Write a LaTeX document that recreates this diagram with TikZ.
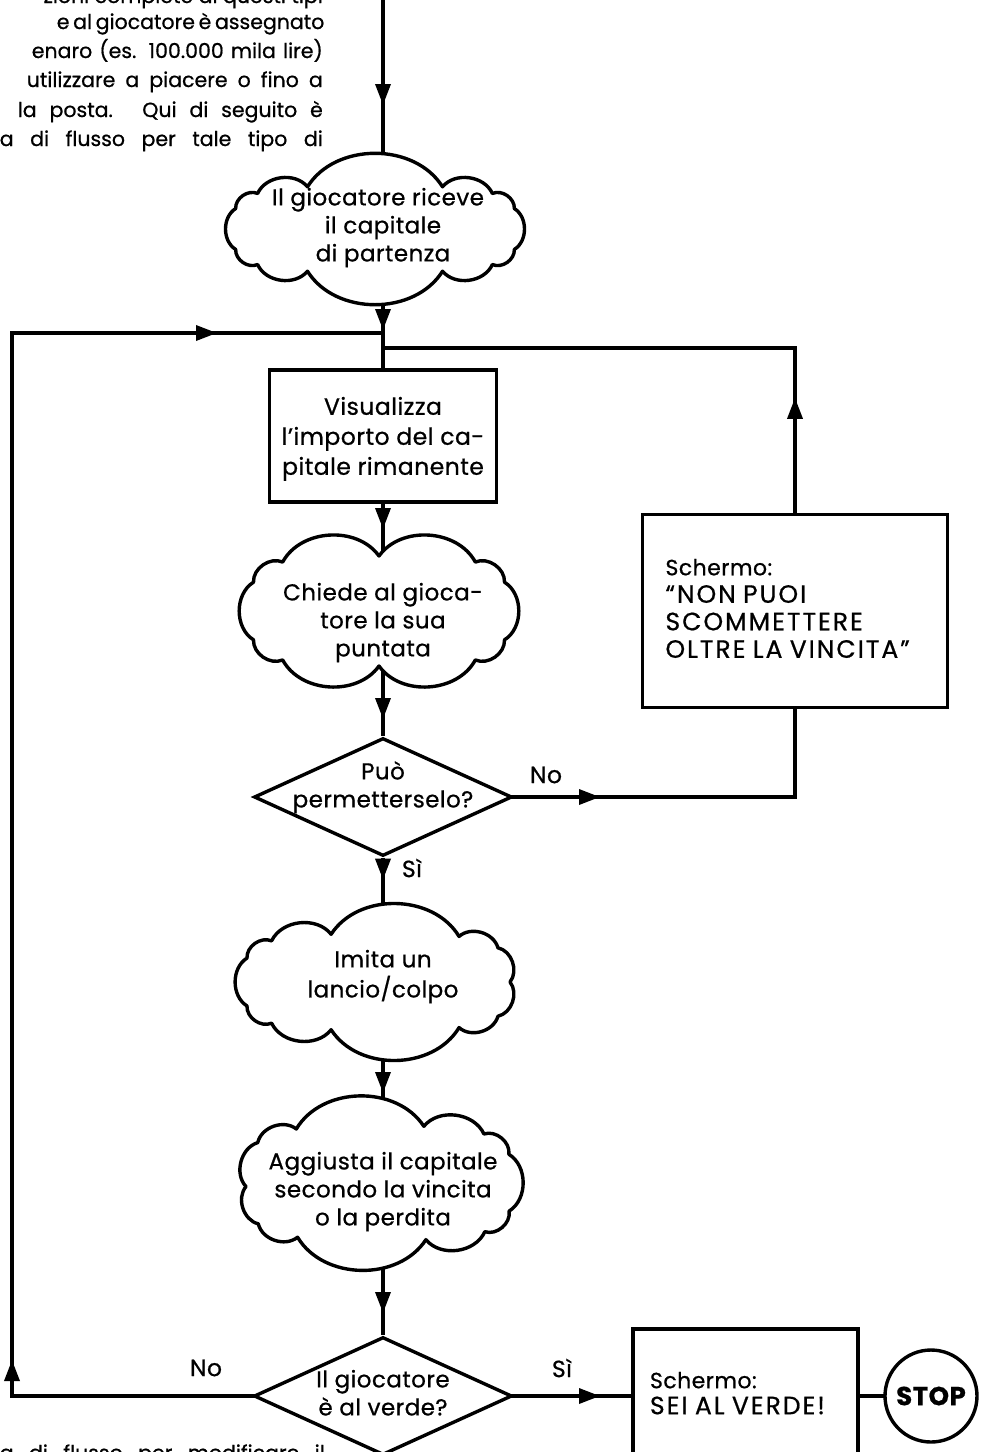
\documentclass[tikz,border=0pt]{standalone}
\usepackage{fontspec}
\setmainfont{Poppins}[LetterSpace=2, FakeBold=0.7]
\newfontfamily\parafont{Poppins}[FakeBold=0.7]
\newfontfamily\capsfont{Poppins}[LetterSpace=8, FakeBold=0.7]
\usetikzlibrary{shapes.geometric,arrows.meta,decorations.markings,backgrounds,calc}
\pgfmathdeclarefunction{sex}{1}{\pgfmathparse{sign(cos(#1))*pow(abs(cos(#1))+0.00001,0.55)}}
\pgfmathdeclarefunction{sey}{1}{\pgfmathparse{sign(sin(#1))*pow(abs(sin(#1))+0.00001,0.55)}}
\newcommand\zbox[2][0pt]{\makebox[0pt]{\raisebox{#1}[0pt][0pt]{\begin{tabular}{@{}c@{}}#2\end{tabular}}}}
\newcommand\capsline[1]{{\capsfont\fontsize{25}{27.5}\selectfont #1}}
% cloud outline: centre x, centre y, half width, half height, puffs, start angle
\newcommand\cloudshape[6]{%
  \draw[cloudline] ({#1+#3*sex(#6)},{#2+#4*sey(#6)})
    \foreach \k in {1,...,#5} { to[bend left=58] ({#1+#3*sex(#6+\k*360/#5)},{#2+#4*sey(#6+\k*360/#5)}) } -- cycle;}
\begin{document}
\begin{tikzpicture}[x=1pt,y=-1pt,
  conn/.style={line width=3.4pt, line join=miter},
  arrowat/.style={postaction={decorate,decoration={markings,
      mark=at position #1 with {\arrow{Triangle[length=21pt,width=15pt]}}}}},
  txt/.style={font=\fontsize{23}{28}\selectfont},
  cloudline/.style={draw, fill=white, line width=3.4pt, line join=round},
  cloudnode/.style={rectangle, inner sep=0pt, txt},
  procbox/.style={rectangle, draw, fill=white, line width=3.4pt, inner sep=0pt,
      font=\fontsize{23.5}{30}\selectfont},
  screenbox/.style={rectangle, draw, fill=white, line width=3.4pt, align=left,
      font=\fontsize{22}{27.5}\selectfont},
  decision/.style={diamond, draw, fill=white, line width=3.4pt, inner sep=0pt, txt},
  lbl/.style={font=\fontsize{23.5}{28}\selectfont, inner sep=0pt},
  paraline/.style={anchor=base east, inner sep=0pt, font=\parafont\fontsize{20.5}{29}\selectfont}
]
\useasboundingbox (0,0) rectangle (982,1452);

% paragraph fragments
\node[paraline] (p1) at (323,3) {zioni complete di questi tipi};
\node[paraline] (p2) at (323,29) {\makebox[266pt][s]{e al giocatore è assegnato}};
\node[paraline] (p3) at (323,58) {\makebox[291pt][s]{enaro (es. 100.000 mila lire)}};
\node[paraline] (p4) at (323,87) {\makebox[296pt][s]{utilizzare a piacere o fino a}};
\node[paraline] (p5) at (323,117) {\makebox[305pt][s]{la posta. Qui di seguito è}};
\node[paraline] (p6) at (323,146) {\makebox[323pt][s]{a di flusso per tale tipo di}};
\node[paraline] (p7) at (325,1460) {\makebox[325pt][s]{a di flusso per modificare il}};

% cloud outlines
\cloudshape{375}{229}{142}{43}{12}{15}
\cloudshape{379}{611}{129}{55}{10}{18}
\cloudshape{377}{982}{133}{48}{11}{0}
\cloudshape{379}{1183}{133}{57}{11}{16}

% main column
\coordinate (topin) at (383,0);
\node[cloudnode, minimum width=297pt, minimum height=142pt] (c1) at (383,229)
  {\zbox[-5pt]{\hspace*{-10pt}Il giocatore riceve\\il capitale\\di partenza}};
\node[procbox, minimum width=227pt, minimum height=132pt] (b1) at (383,436)
  {\zbox[-9pt]{Visualizza\\l’importo del ca-\\pitale rimanente}};
\node[cloudnode, minimum width=285pt, minimum height=155pt] (c2) at (383,611)
  {\zbox[-18pt]{Chiede al gioca-\\tore la sua\\puntata}};
\node[decision, minimum width=258pt, minimum height=118pt] (d1) at (383,797)
  {\zbox[3pt]{Può\\permetterselo?}};
\node[cloudnode, minimum width=292pt, minimum height=159pt] (c3) at (383,982)
  {\zbox[-1pt]{Imita un\\lancio/colpo}};
\node[cloudnode, minimum width=292pt, minimum height=163pt] (c4) at (383,1183)
  {\zbox[-15pt]{Aggiusta il capitale\\secondo la vincita\\o la perdita}};
\node[decision, minimum width=258pt, minimum height=118pt] (d2) at (383,1396)
  {\zbox[-6pt]{Il giocatore\\è al verde?}};

% side nodes
\node[screenbox, text width=259pt, inner xsep=23pt, inner ysep=0pt, minimum height=193pt] (b2) at (795,611)
  {\raisebox{-2pt}{\begin{tabular}{@{}l@{}}Schermo:\\\capsline{“NON PUOI}\\\capsline{SCOMMETTERE}\\\capsline{OLTRE LA VINCITA”}\end{tabular}}};
\node[screenbox, text width=191pt, inner xsep=17pt, inner ysep=0pt, minimum height=134pt,
  font=\fontsize{22}{26}\selectfont] (b3) at (745.5,1396)
  {\raisebox{13pt}{\begin{tabular}{@{}l@{}}Schermo:\\\capsline{SEI AL VERDE!}\end{tabular}}};
\node[circle, draw, fill=white, line width=3.4pt, minimum size=92pt, inner sep=0pt,
  font=\bfseries\fontsize{26}{28}\selectfont] (stop) at (931,1396) {STOP};

% labels
\node[lbl] (lno1) at (546,775) {No};
\node[lbl] (lsi1) at (412,868) {Sì};
\node[lbl] (lno2) at (206,1368) {No};
\node[lbl] (lsi2) at (562,1368) {Sì};

\coordinate (lcorner) at (12,333);
\coordinate (rjoin) at (383,348);

\begin{scope}[on background layer]
  \path[fill=white] (0,0) rectangle (982,1452);
  \draw[conn, arrowat=105pt] (topin) -- (c1.center);
  \draw[conn, arrowat=101pt] (c1.center) -- (b1.center);
  \draw[conn, arrowat=407pt, arrowat=1639pt] (d2.center) -| (lcorner) -- (lcorner -| c1);
  \draw[conn, arrowat=115pt] (b2.north) |- (rjoin);
  \draw[conn, arrowat=-82pt] (b1.south) -- (c2.center);
  \draw[conn, arrowat=108pt] (c2.center) -- (d1.north);
  \draw[conn, arrowat=217pt] (d1.center) -| (b2.south);
  \draw[conn, arrowat=22pt] (d1.south) -- (c3.center);
  \draw[conn, arrowat=111pt] (c3.center) -- (c4.center);
  \draw[conn, arrowat=130pt] (c4.center) -- (d2.north);
  \draw[conn, arrowat=217pt] (d2.center) -- (b3.center);
  \draw[conn] (b3.center) -- (stop.center);
\end{scope}
\end{tikzpicture}
\end{document}
